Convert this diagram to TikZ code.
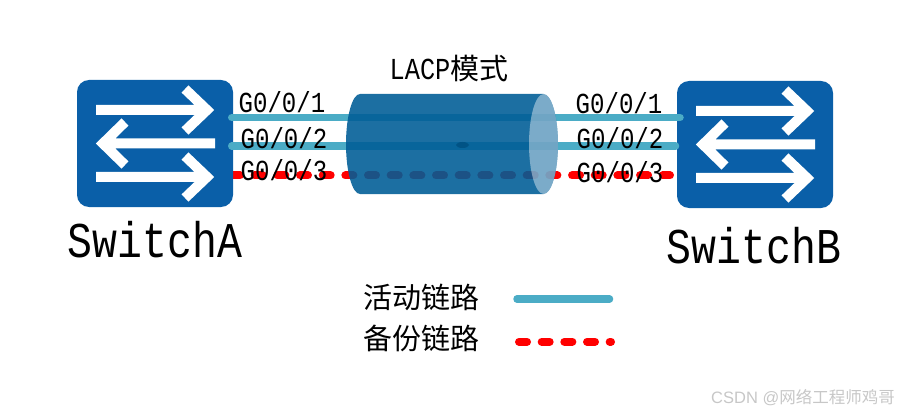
\documentclass[tikz,border=0pt]{standalone}
\usepackage{fontspec}
\setmainfont[FakeStretch=0.83]{Liberation Mono}
\newfontfamily\cjk{Noto Sans CJK SC}
\newfontfamily\wmfont{Liberation Sans}

\definecolor{switchblue}{RGB}{10,95,168}
\definecolor{linkblue}{RGB}{75,172,198}
\definecolor{lagblue}{RGB}{0,93,150}

\begin{document}
\begin{tikzpicture}[x=1pt,y=-1pt]
    \tikzstyle{switchbox}=[rectangle,rounded corners=12pt,fill=switchblue,minimum width=156pt,minimum height=127pt,inner sep=0pt,outer sep=0pt]
    \tikzstyle{switcharrow}=[white,line width=10pt,miter limit=10]
    \tikzstyle{activelink}=[linkblue,line width=7.5pt,line cap=round]
    \tikzstyle{backuplink}=[red,line width=8pt,line cap=round,dash pattern=on 8pt off 14.67pt]
    \tikzstyle{lagbody}=[lagblue,fill opacity=0.89]
    \tikzstyle{lagcap}=[white,fill opacity=0.42]
    \tikzstyle{port}=[inner sep=0pt,font=\fontsize{29}{29}\selectfont]
    \tikzstyle{title}=[inner sep=0pt,font=\fontsize{50}{50}\selectfont]
    \tikzstyle{legend}=[inner sep=0pt,font=\fontsize{29}{29}\selectfont\cjk]

    \useasboundingbox (0,0) rectangle (904,414);

    \coordinate (a1) at (231.75,117.5);
    \coordinate (a2) at (231.75,146);
    \coordinate (a3) at (232,175.5);
    \coordinate (b1) at (680,117.5);
    \coordinate (b2) at (675.5,146);
    \coordinate (b3) at (670,175.5);
    \coordinate (key1a) at (517,299);
    \coordinate (key1b) at (609.5,299);
    \coordinate (key2a) at (519,341.7);
    \coordinate (key2b) at (611,341.7);
    \coordinate (capend) at (543.5,94);
    \coordinate (tailend) at (360,194);

    \draw[backuplink] (a3) -- (b3);

    \node[switchbox] (swA) at (155,143.5) {};
    \node[switchbox] (swB) at (755,144.5) {};
    \foreach \sw in {swA,swB} {
      \begin{scope}[shift={(\sw.center)}]
        \draw[switcharrow] (-59,-33.5) -- (50,-33.5) (30,-54.5) -- (52,-33.5) -- (30,-12.5);
        \draw[switcharrow] (60,0) -- (-50,0) (-30,-21.5) -- (-52,0) -- (-30,21.5);
        \draw[switcharrow] (-59,33.5) -- (50,33.5) (30,12.5) -- (52,33.5) -- (30,54.5);
      \end{scope}
    }

    \draw[activelink] (a1) -- (b1);
    \draw[activelink] (a2) -- (b2);

    \fill[lagbody] (capend) arc [start angle=90,end angle=-90,x radius=14.5pt,y radius=50pt]
      -- (tailend) arc [start angle=270,end angle=90,x radius=14pt,y radius=50pt] -- cycle;
    \fill[lagcap] (capend |- 0,144) ellipse [x radius=14.5pt,y radius=50pt];
    \fill[lagblue!85!black,fill opacity=0.8] (462.5,145) ellipse [x radius=6.5pt,y radius=3pt];

    \node[port,font=\fontsize{30.5}{30}\selectfont] (lagname) at (449,69) {LACP{\cjk\fontsize{29}{29}\selectfont 模式}};

    \node[port] (pa1) at (282,102) {G0/0/1};
    \node[port] (pa2) at (284,138) {G0/0/2};
    \node[port] (pa3) at (284,170) {G0/0/3};
    \node[port] (pb1) at (619,103.5) {G0/0/1};
    \node[port] (pb2) at (620,138) {G0/0/2};
    \node[port] (pb3) at (620,172) {G0/0/3};

    \node[title] (nameA) at (155,240) {SwitchA};
    \node[title] (nameB) at (754,246) {SwitchB};

    \node[legend] (key1) at (421,297) {活动链路};
    \node[legend] (key2) at (421,338) {备份链路};
    \draw[activelink] (key1a) -- (key1b);
    \draw[backuplink] (key2a) -- (key2b);

    \node[inner sep=0pt,text=black!22,font=\fontsize{16.5}{17}\selectfont\wmfont] (mark) at (803,398) {CSDN @{\cjk 网络工程师鸡哥}};
\end{tikzpicture}
\end{document}
